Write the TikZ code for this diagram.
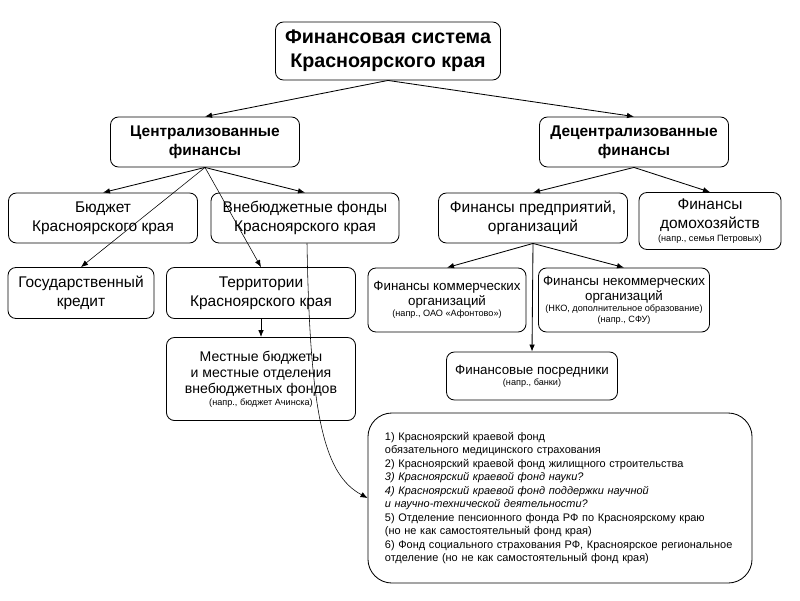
\documentclass[tikz,border=0pt]{standalone}
\usepackage{fontspec}
\setmainfont{Liberation Sans}
\usetikzlibrary{arrows.meta}
\tikzset{box/.style = {draw, rounded corners=0.2cm, align=center, inner sep=1pt,
                       line width=0.6pt, font=\fontsize{11}{13.5}\selectfont},
         head/.style = {box, font=\bfseries\fontsize{11}{13.5}\selectfont},
         mid/.style = {box, font=\fontsize{9.5}{10.7}\selectfont},
         arr/.style = {-{Latex[length=5pt, width=4pt]}, line width=0.6pt},
         thinarr/.style = {arr, line width=0.4pt}}
\newcommand{\sm}[1]{{\fontsize{6.5}{8}\selectfont #1}}

\begin{document}
\begin{tikzpicture}[x=0.025cm, y=-0.025cm]
      \useasboundingbox (0, 0) rectangle (800, 600);

      \node [box, font=\bfseries\fontsize{14}{17}\selectfont, minimum width=5.625cm, minimum height=1.45cm]
            (top) at (388, 51) {Финансовая система\\Красноярского края};

      \node [head, minimum width=4.725cm, minimum height=1.25cm] (central) at (205, 142)
            {Централизованные\\финансы};
      \node [head, minimum width=4.725cm, minimum height=1.25cm] (decentral) at (634, 142)
            {Децентрализованные\\финансы};

      \node [box, minimum width=4.725cm, minimum height=1.25cm] (budget) at (103, 218)
            {Бюджет\\Красноярского края};
      \node [box, minimum width=4.7cm, minimum height=1.25cm] (extra) at (305, 218)
            {Внебюджетные фонды\\Красноярского края};
      \node [box, minimum width=4.725cm, minimum height=1.25cm] (firms) at (533, 218)
            {Финансы предприятий,\\организаций};
      \node [box, minimum width=3.55cm, minimum height=1.425cm] (house) at (710, 221)
            {Финансы\\домохозяйств\\[-4pt]\sm{(напр., семья Петровых)}};

      \node [box, minimum width=3.65cm, minimum height=1.275cm] (credit) at (81, 293)
            {Государственный\\кредит};
      \node [box, minimum width=4.725cm, minimum height=1.275cm] (terr) at (261, 293)
            {Территории\\Красноярского края};
      \node [mid, minimum width=3.95cm, minimum height=1.6cm] (comm) at (447, 300)
            {Финансы коммерческих\\организаций\\[-3pt]\sm{(напр., ОАО «Афонтово»)}};
      \node [mid, minimum width=4.275cm, minimum height=1.6cm] (noncomm) at (624, 300)
            {Финансы некоммерческих\\организаций\\[-3pt]\sm{(НКО, дополнительное образование)}\\[-3pt]\sm{(напр., СФУ)}};

      \node [box, font=\fontsize{10}{11.5}\selectfont, minimum width=4.725cm, minimum height=2.075cm]
            (local) at (261, 379)
            {Местные бюджеты\\и местные отделения\\внебюджетных фондов\\[-3pt]\sm{(напр., бюджет Ачинска)}};
      \node [mid, minimum width=4.275cm, minimum height=1.2cm] (inter) at (532, 376)
            {Финансовые посредники\\[-3pt]\sm{(напр., банки)}};

      \node [draw, rounded corners=0.6cm, line width=0.6pt, minimum width=9.6cm, minimum height=4.25cm,
             text width=8.75cm, align=left, inner xsep=0.425cm,
             font=\fontsize{7.8}{9.6}\selectfont] (funds) at (560, 498)
            {1) Красноярский краевой фонд\\
             обязательного медицинского страхования\\
             2) Красноярский краевой фонд жилищного строительства\\
             \textit{3) Красноярский краевой фонд науки?}\\
             \textit{4) Красноярский краевой фонд поддержки научной}\\
             \textit{и научно-технической деятельности?}\\
             5) Отделение пенсионного фонда РФ по Красноярскому краю\\
             (но не как самостоятельный фонд края)\\
             6) Фонд социального страхования РФ, Красноярское региональное\\
             отделение (но не как самостоятельный фонд края)};

      \draw [arr] (top.south) -- (central.north);
      \draw [arr] (top.south) -- (decentral.north);

      \draw [arr] (central.south) -- (budget.north);
      \draw [arr] (central.south) -- (extra.north);
      \draw [thinarr] (central.south) -- (credit.north);
      \draw [thinarr] (central.south) -- (terr.north);
      \draw [arr] (terr.south) -- (local.north);

      \draw [arr] (decentral.south) -- (firms.north);
      \draw [arr] (decentral.south) -- (house.north);
      \draw [arr] (firms.south) -- (comm.north);
      \draw [arr] (firms.south) -- (noncomm.north);
      \draw [arr] (firms.south) -- (inter.north);

      \draw [thinarr] ([xshift=0.05cm]extra.south) .. controls (310, 420) and (325, 475) .. (funds.west);
    \end{tikzpicture}
\end{document}
